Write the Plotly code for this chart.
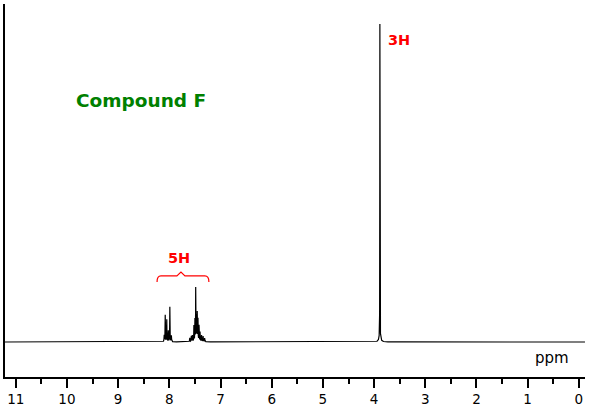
import numpy as np
import plotly.graph_objects as go

# ---- data ----
peak_ppm = [8.10, 8.08, 8.05, 8.02, 7.99, 7.96,
            7.60, 7.57, 7.55, 7.52, 7.50, 7.485, 7.47, 7.455, 7.44, 7.42, 7.40, 7.37, 7.34, 7.31,
            3.887, 3.887]
peak_height = [0.02, 0.084, 0.07, 0.035, 0.11, 0.02,
               0.012, 0.018, 0.02, 0.05, 0.07, 0.165, 0.08, 0.09, 0.07, 0.05, 0.03, 0.02, 0.018, 0.012,
               0.985, 0.015]
peak_hwhm = [0.004, 0.003, 0.003, 0.003, 0.003, 0.004,
             0.004, 0.004, 0.004, 0.003, 0.003, 0.002, 0.003, 0.003, 0.003, 0.003, 0.004, 0.004, 0.004, 0.004,
             0.0015, 0.02]
tick_values = list(range(0, 12))
tick_labels = [str(v) for v in tick_values]
integrals = ["5H", "3H"]
integral_ppm = [7.81, 3.506]
integral_y = [0.264, 0.950]
title_text = "Compound F"

# ---- build spectrum ----
x = np.arange(11.21, -0.12, -0.0005)
y = np.zeros_like(x)
for p, h, w in zip(peak_ppm, peak_height, peak_hwhm):
    y += h / (1 + ((x - p) / w) ** 2)

fig = go.Figure()
fig.add_trace(go.Scatter(x=x, y=y, mode="lines", line=dict(color="black", width=1.2),
                         hoverinfo="skip", showlegend=False))

# bracket over aromatic region
bl, br, by, bt, bd = 8.24, 7.227, 0.208, 0.220, 0.189
path = (f"M {bl},{bd} Q {bl},{by} {bl-0.076},{by} L 7.852,{by} L 7.773,{bt} "
        f"L 7.695,{by} L {br+0.078},{by} Q {br},{by} {br},{bd}")
fig.add_shape(type="path", path=path, xref="x", yref="y",
              line=dict(color="red", width=1.2))

for t, px, py in zip(integrals, integral_ppm, integral_y):
    fig.add_annotation(x=px, y=py, xref="x", yref="y", text=t, showarrow=False,
                       xanchor="center", yanchor="middle",
                       font=dict(family="DejaVu Sans", size=14.5, color="red", weight="bold"))

fig.add_annotation(x=0.2345, y=0.740, xref="paper", yref="paper", text=title_text,
                   showarrow=False, xanchor="center", yanchor="middle",
                   font=dict(family="DejaVu Sans", size=18.5, color="#008000", weight="bold"))
fig.add_annotation(x=0.943, y=0.051, xref="paper", yref="paper", text="ppm",
                   showarrow=False, xanchor="center", yanchor="middle",
                   font=dict(family="DejaVu Sans", size=15, color="black"))

fig.update_layout(
    width=590, height=414,
    margin=dict(l=5, r=5, t=4, b=37),
    paper_bgcolor="white", plot_bgcolor="white",
    hovermode=False,
    xaxis=dict(range=[11.21, -0.12], showgrid=False, zeroline=False,
               showline=True, linecolor="black", linewidth=1.5,
               ticks="outside", ticklen=9, tickwidth=1.5, tickcolor="black",
               tickvals=tick_values, ticktext=tick_labels,
               tickfont=dict(family="DejaVu Sans", size=13.5, color="black"),
               minor=dict(ticks="outside", ticklen=5, tickwidth=1.5, tickcolor="black",
                          tick0=0.5, dtick=1, showgrid=False)),
    yaxis=dict(range=[-0.1101, 1.0629], showgrid=False, zeroline=False,
               showline=True, linecolor="black", linewidth=2,
               showticklabels=False, ticks=""),
)

fig.write_html("out.html", config={"displayModeBar": False},
               post_script="document.body.style.margin='0px';")
